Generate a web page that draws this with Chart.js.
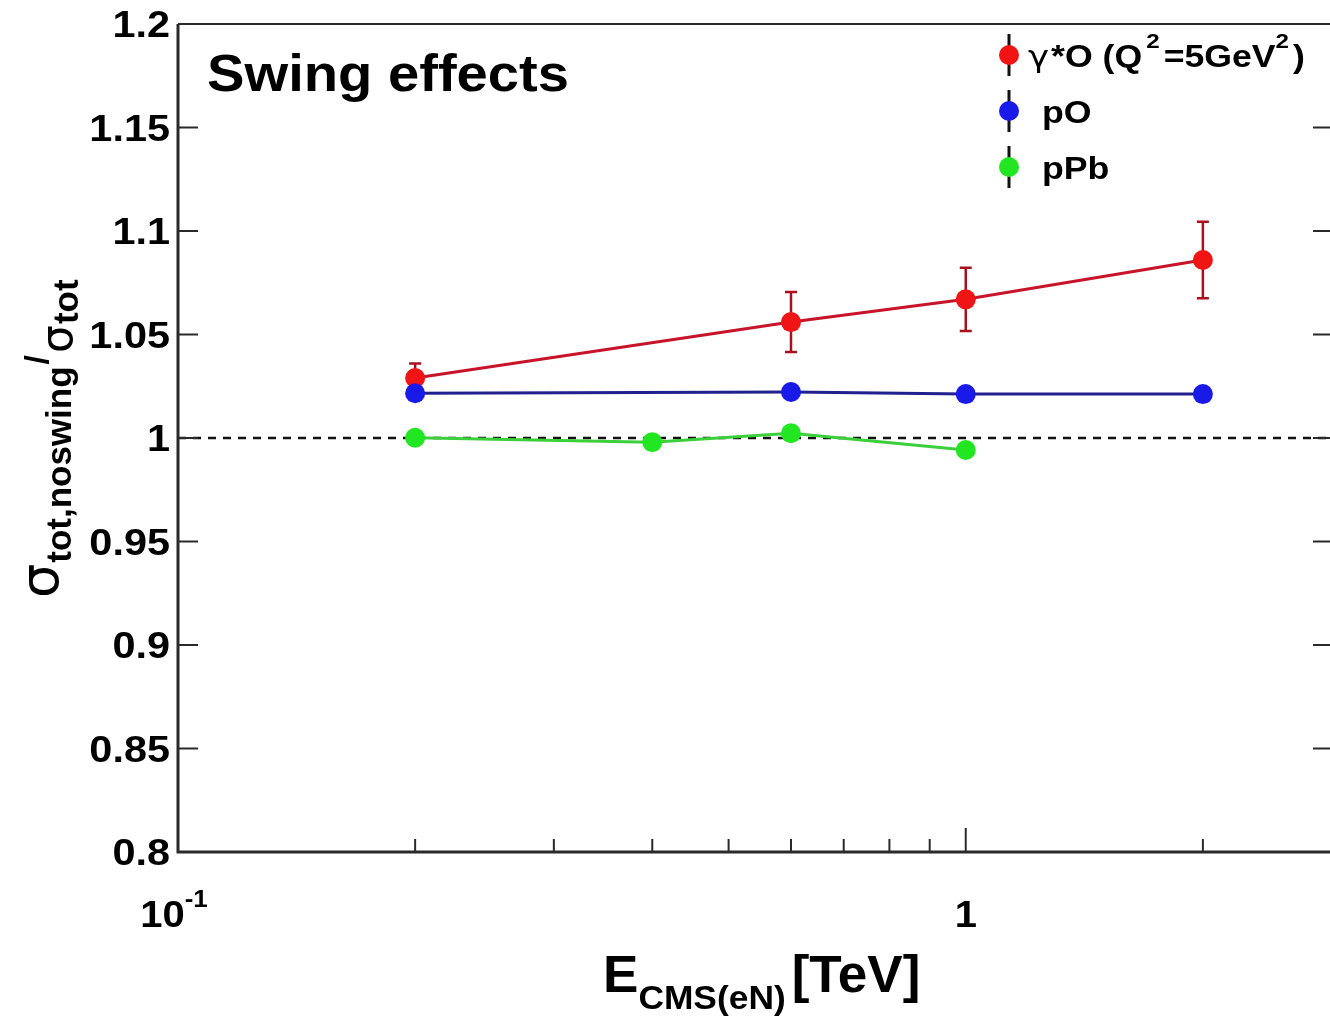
<!DOCTYPE html>
<html>
<head>
<meta charset="utf-8">
<title>Swing effects</title>
<script src="https://cdn.jsdelivr.net/npm/chart.js@4/dist/chart.umd.min.js"></script>
<style>
  html, body { margin: 0; padding: 0; background: #ffffff; overflow: hidden; }
  #wrap { width: 1330px; height: 1016px; position: relative; }
</style>
</head>
<body>
<div id="wrap"><canvas id="c" width="1330" height="1016"></canvas></div>
<script>
// ---- data ----
const gammaOEnergies = [0.2, 0.6, 1, 2];
const gammaORatio    = [1.029, 1.056, 1.067, 1.086];
const gammaOError    = [0.007, 0.0145, 0.0153, 0.0185];

const pOEnergies = [0.2, 0.6, 1, 2];
const pORatio    = [1.0216, 1.0222, 1.0212, 1.0212];

const pPbEnergies = [0.2, 0.4, 0.6, 1];
const pPbRatio    = [1.0001, 0.998, 1.0023, 0.9942];

const yTickValues  = [0.8, 0.85, 0.9, 0.95, 1, 1.05, 1.1, 1.15, 1.2];
const yTickLabels  = ['0.8', '0.85', '0.9', '0.95', '1', '1.05', '1.1', '1.15', '1.2'];
const xMajorTicks  = [0.1, 1];
const xMinorTicks  = [0.2, 0.3, 0.4, 0.5, 0.6, 0.7, 0.8, 0.9, 2];
const seriesNames  = ['pO', 'pPb'];
const referenceLevel = 1;

// ---- style ----
const FONT = '"Liberation Sans", Arial, Helvetica, sans-serif';
const GREEK = '"DejaVu Sans", sans-serif';
const RED_PT = '#f01414', RED_LN = '#c8142a', RED_ERR = '#a8101e';
const BLUE_PT = '#1a1ae8', BLUE_LN = '#20208e';
const GREEN_PT = '#22e622', GREEN_LN = '#3ccf3c';
const FRAME = '#2a2a2a';

function pts(xs, ys) { return xs.map((x, i) => ({ x: x, y: ys[i] })); }

function setFont(ctx, r) {
  ctx.font = `${r.weight || 'bold'} ${r.size}px ${r.family || FONT}`;
}
function measureRuns(ctx, runs, sx) {
  let w = 0;
  for (const r of runs) {
    setFont(ctx, r);
    w += ctx.measureText(r.t).width * sx + (r.gap || 0);
  }
  return w;
}
// draws a sequence of text runs [{t, size, dy, weight, family, gap}] from x on baseline y
function drawRuns(ctx, runs, x, y, align, sx) {
  const total = measureRuns(ctx, runs, sx);
  let cx = x;
  if (align === 'right') cx = x - total;
  else if (align === 'center') cx = x - total / 2;
  for (const r of runs) {
    ctx.save();
    setFont(ctx, r);
    ctx.fillStyle = '#000';
    ctx.textBaseline = 'alphabetic';
    ctx.textAlign = 'left';
    ctx.translate(cx, y + (r.dy || 0));
    ctx.scale(sx, 1);
    ctx.fillText(r.t, 0, 0);
    ctx.restore();
    setFont(ctx, r);
    cx += ctx.measureText(r.t).width * sx + (r.gap || 0);
  }
  return total;
}

// reference line and error bars below the markers
const underlayPlugin = {
  id: 'underlay',
  beforeDatasetsDraw(chart) {
    const ctx = chart.ctx, xs = chart.scales.x, ys = chart.scales.y, a = chart.chartArea;
    ctx.save();
    ctx.strokeStyle = '#111';
    ctx.lineWidth = 2.5;
    ctx.setLineDash([8, 7]);
    const yl = ys.getPixelForValue(referenceLevel);
    ctx.beginPath(); ctx.moveTo(a.left, yl); ctx.lineTo(a.right, yl); ctx.stroke();
    ctx.setLineDash([]);
    ctx.strokeStyle = RED_ERR;
    ctx.lineWidth = 2.5;
    gammaOEnergies.forEach((e, i) => {
      const px = xs.getPixelForValue(e);
      const top = ys.getPixelForValue(gammaORatio[i] + gammaOError[i]);
      const bot = ys.getPixelForValue(gammaORatio[i] - gammaOError[i]);
      ctx.beginPath();
      ctx.moveTo(px, top); ctx.lineTo(px, bot);
      ctx.moveTo(px - 6, top); ctx.lineTo(px + 6, top);
      ctx.moveTo(px - 6, bot); ctx.lineTo(px + 6, bot);
      ctx.stroke();
    });
    ctx.restore();
  }
};

// frame, ticks, labels, titles and legend
const framePlugin = {
  id: 'frame',
  afterDraw(chart) {
    const ctx = chart.ctx, xs = chart.scales.x, ys = chart.scales.y, a = chart.chartArea;
    ctx.save();
    ctx.strokeStyle = FRAME;
    // axes box
    ctx.lineWidth = 3;
    ctx.beginPath();
    ctx.moveTo(a.left, a.top); ctx.lineTo(a.left, a.bottom); ctx.lineTo(a.right, a.bottom);
    ctx.stroke();
    ctx.lineWidth = 2;
    ctx.beginPath();
    ctx.moveTo(a.left, a.top); ctx.lineTo(a.right, a.top);
    ctx.stroke();

    // y ticks (inward, both sides)
    ctx.lineWidth = 2;
    yTickValues.forEach(v => {
      const py = ys.getPixelForValue(v);
      ctx.beginPath();
      ctx.moveTo(a.left, py); ctx.lineTo(a.left + 20, py);
      ctx.moveTo(a.right, py); ctx.lineTo(a.right - 17, py);
      ctx.stroke();
    });
    // x ticks (inward from bottom)
    xMajorTicks.forEach(v => {
      const px = xs.getPixelForValue(v);
      ctx.beginPath(); ctx.moveTo(px, a.bottom); ctx.lineTo(px, a.bottom - 24); ctx.stroke();
    });
    xMinorTicks.forEach(v => {
      const px = xs.getPixelForValue(v);
      ctx.beginPath(); ctx.moveTo(px, a.bottom); ctx.lineTo(px, a.bottom - 13); ctx.stroke();
    });

    // y tick labels
    yTickValues.forEach((v, i) => {
      const py = ys.getPixelForValue(v);
      drawRuns(ctx, [{ t: yTickLabels[i], size: 37 }], a.left - 8, py + 13, 'right', 1.12);
    });
    // x tick labels
    const p01 = xs.getPixelForValue(xMajorTicks[0]);
    drawRuns(ctx, [{ t: '10', size: 37 }, { t: '-1', size: 24, dy: -20 }], p01 - 4, 927, 'center', 1.08);
    const p1 = xs.getPixelForValue(xMajorTicks[1]);
    drawRuns(ctx, [{ t: '1', size: 37 }], p1, 927, 'center', 1.08);

    // x title
    drawRuns(ctx, [
      { t: 'E', size: 51 },
      { t: 'CMS(eN)', size: 34, dy: 17, gap: 6 },
      { t: '[TeV]', size: 51 }
    ], 603, 992, 'left', 1.04);

    // y title (rotated)
    ctx.save();
    ctx.translate(58, 598);
    ctx.rotate(-Math.PI / 2);
    let cx = 0;
    const yrun = (t, size, dy, weight, family, gap) => {
      ctx.font = `${weight || 'bold'} ${size}px ${family || FONT}`;
      ctx.fillStyle = '#000';
      ctx.fillText(t, cx, dy);
      cx += ctx.measureText(t).width + (gap || 0);
    };
    yrun('σ', 54, 0, 'normal', GREEK, 1);
    yrun('tot,noswing', 35, 13, 'bold', FONT, 2);
    yrun('/', 34, -10, 'bold', FONT, 2);
    yrun('σ', 44, 14, 'normal', GREEK, 1);
    yrun('tot', 35, 20);
    ctx.restore();

    // panel label
    drawRuns(ctx, [{ t: 'Swing effects', size: 52 }], 207, 91, 'left', 1.08);

    // legend
    const legendRows = [
      { y: 55, pt: RED_PT, runs: [
        { t: 'γ', size: 31, weight: 'normal', family: GREEK, gap: 2 },
        { t: '*O (Q', size: 31, gap: 4 },
        { t: '2', size: 21, dy: -19, gap: 4 },
        { t: '=5GeV', size: 31 },
        { t: '2', size: 21, dy: -19, gap: 4 },
        { t: ')', size: 31 }
      ], tx: 1028 },
      { y: 111, pt: BLUE_PT, runs: [{ t: seriesNames[0], size: 31 }], tx: 1042 },
      { y: 167, pt: GREEN_PT, runs: [{ t: seriesNames[1], size: 31 }], tx: 1042 }
    ];
    legendRows.forEach(r => {
      ctx.strokeStyle = '#111';
      ctx.lineWidth = 3;
      ctx.beginPath(); ctx.moveTo(1009, r.y - 21); ctx.lineTo(1009, r.y + 21); ctx.stroke();
      ctx.fillStyle = r.pt;
      ctx.beginPath(); ctx.arc(1009, r.y, 10, 0, Math.PI * 2); ctx.fill();
      drawRuns(ctx, r.runs, r.tx, r.y + 12, 'left', 1.15);
    });
    ctx.restore();
  }
};

const chart = new Chart(document.getElementById('c'), {
  type: 'line',
  data: {
    datasets: [
      { label: 'γ*O (Q²=5GeV²)', data: pts(gammaOEnergies, gammaORatio), borderColor: RED_LN, backgroundColor: RED_PT,
        pointBackgroundColor: RED_PT, pointBorderWidth: 0, pointRadius: 10, borderWidth: 3, order: 3 },
      { label: seriesNames[0], data: pts(pOEnergies, pORatio), borderColor: BLUE_LN, backgroundColor: BLUE_PT,
        pointBackgroundColor: BLUE_PT, pointBorderWidth: 0, pointRadius: 10, borderWidth: 3, order: 1 },
      { label: seriesNames[1], data: pts(pPbEnergies, pPbRatio), borderColor: GREEN_LN, backgroundColor: GREEN_PT,
        pointBackgroundColor: GREEN_PT, pointBorderWidth: 0, pointRadius: 10, borderWidth: 3, order: 2 }
    ]
  },
  options: {
    responsive: false,
    animation: false,
    devicePixelRatio: 1,
    layout: { autoPadding: false, padding: { left: 178, top: 24, right: 0, bottom: 164 } },
    plugins: { legend: { display: false }, tooltip: { enabled: false } },
    scales: {
      x: { type: 'logarithmic', min: 0.1, max: 2.9, display: false },
      y: { type: 'linear', min: 0.8, max: 1.2, display: false }
    },
    elements: { line: { tension: 0 } }
  },
  plugins: [underlayPlugin, framePlugin]
});
</script>
</body>
</html>
